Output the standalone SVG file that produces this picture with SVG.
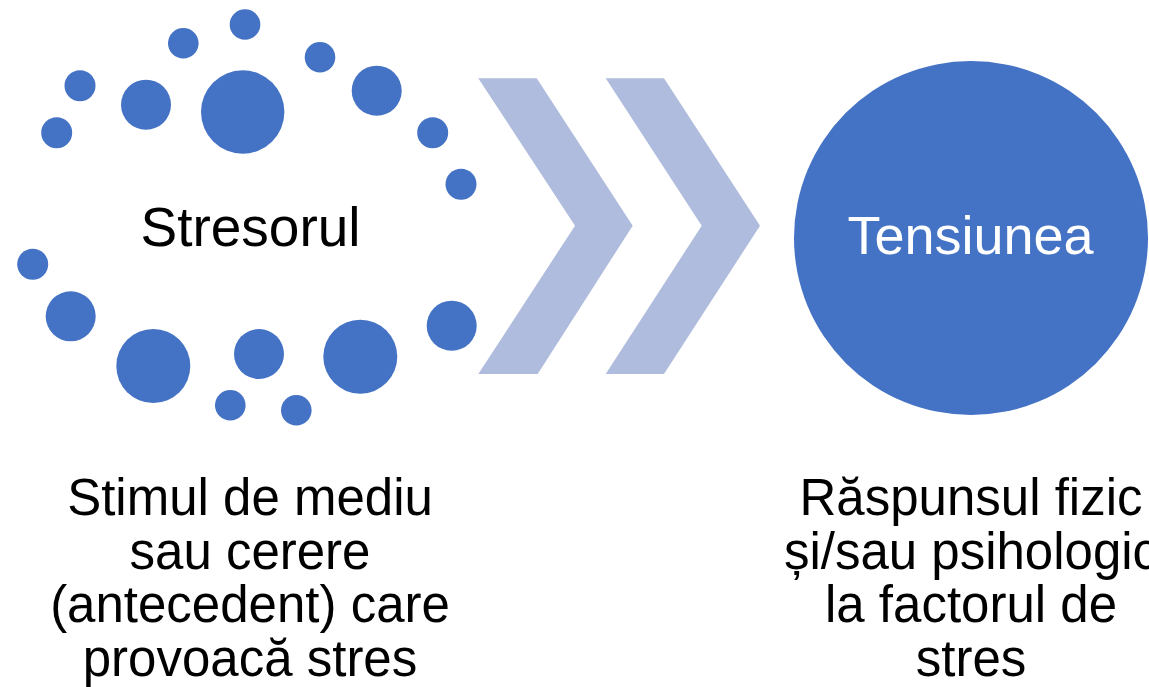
<svg xmlns="http://www.w3.org/2000/svg" width="1149" height="687" viewBox="0 0 1149 687">
  <style>
    .dot { fill: #4472C4; }
    .chev { fill: #AFBCDD; }
    .lbl { font-family: "Liberation Sans", Arial, sans-serif; text-anchor: middle; fill: #000000; }
    .cap { font-size: 51px; }
  </style>
  <rect x="0" y="0" width="1149" height="687" fill="#FFFFFF"/>
  <g id="node-stresorul">
    <circle class="dot" cx="245" cy="24.5" r="15.3"/>
    <circle class="dot" cx="183.3" cy="43.3" r="15.3"/>
    <circle class="dot" cx="320" cy="57.3" r="15.3"/>
    <circle class="dot" cx="80" cy="85.7" r="15.5"/>
    <circle class="dot" cx="146" cy="104.7" r="25"/>
    <circle class="dot" cx="242.7" cy="112" r="41.7"/>
    <circle class="dot" cx="376.7" cy="90.7" r="25"/>
    <circle class="dot" cx="56.7" cy="132.7" r="15.5"/>
    <circle class="dot" cx="432.7" cy="132.7" r="15.5"/>
    <circle class="dot" cx="461" cy="184.3" r="15.5"/>
    <circle class="dot" cx="32.7" cy="264.3" r="15.5"/>
    <circle class="dot" cx="70.7" cy="316.3" r="25"/>
    <circle class="dot" cx="153.3" cy="366" r="37"/>
    <circle class="dot" cx="259" cy="354" r="25"/>
    <circle class="dot" cx="360.3" cy="356.7" r="37"/>
    <circle class="dot" cx="451.7" cy="325.7" r="25"/>
    <circle class="dot" cx="230.3" cy="405.3" r="15.3"/>
    <circle class="dot" cx="296.3" cy="410.3" r="15.3"/>
    <text class="lbl" x="250.5" y="245.7" font-size="55">Stresorul</text>
  </g>
  <g id="connectors">
    <polygon class="chev" points="478.3,78.3 536.7,78.3 632.7,225.7 537.7,374 478.3,374 575,225.7"/>
    <polygon class="chev" points="605.7,78.3 664,78.3 760,225.7 664,374 605.7,374 701.7,225.7"/>
  </g>
  <g id="node-tensiunea">
    <circle class="dot" cx="971" cy="238" r="177"/>
    <text class="lbl" x="970.5" y="254.3" font-size="54" style="fill:#FFFFFF">Tensiunea</text>
  </g>
  <g id="caption-stresorul">
    <text class="lbl cap" x="250" y="515">Stimul de mediu</text>
    <text class="lbl cap" x="250" y="568.5">sau cerere</text>
    <text class="lbl cap" x="250" y="622">(antecedent) care</text>
    <text class="lbl cap" x="250" y="675.5">provoacă stres</text>
  </g>
  <g id="caption-tensiunea">
    <text class="lbl cap" x="971" y="515">Răspunsul fizic</text>
    <text class="lbl cap" x="971" y="568.5">și/sau psihologic</text>
    <text class="lbl cap" x="971" y="622">la factorul de</text>
    <text class="lbl cap" x="971" y="675.5">stres</text>
  </g>
</svg>
